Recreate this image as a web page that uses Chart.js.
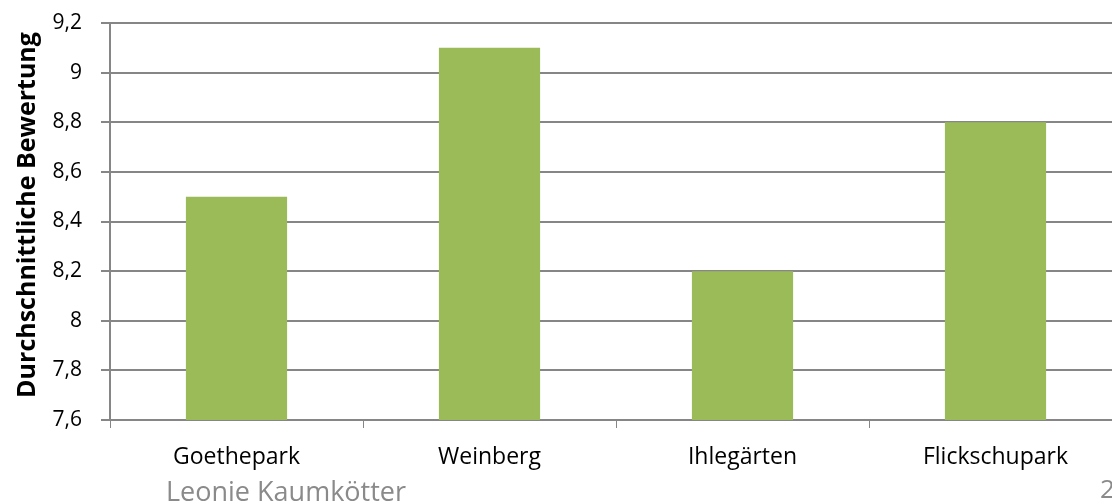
<!DOCTYPE html>
<html>
<head>
<meta charset="utf-8">
<script src="https://cdn.jsdelivr.net/npm/chart.js@4/dist/chart.umd.min.js"></script>
<style>
  html, body { margin: 0; padding: 0; background: #fff; overflow: hidden; }
  #wrap { position: relative; width: 1124px; height: 502px; }
  canvas { display: block; }
  .note { position: absolute; font-family: "Open Sans", sans-serif; color: #8a8a8a; white-space: nowrap; }
</style>
</head>
<body>
<div id="wrap">
  <canvas id="barChartParks" width="1124" height="502"></canvas>
  <div class="note" style="left:166px; top:472px; font-size:27px;">Leonie Kaumkötter</div>
  <div class="note" style="left:1100px; top:470px; font-size:26px;">2</div>
</div>
<script>
var parkNames = ['Goethepark', 'Weinberg', 'Ihlegärten', 'Flickschupark'];
var avgRatings = [8.5, 9.1, 8.2, 8.8];
var yMin = 7.6;
var yMax = 9.2;
var yStep = 0.2;

var ctx = document.getElementById('barChartParks').getContext('2d');
var barChartParks = new Chart(ctx, {
    type: 'bar',
    data: {
        labels: parkNames,
        datasets: [{
            label: 'Durchschnittliche Bewertung',
            data: avgRatings,
            backgroundColor: '#9bbb59',
            borderWidth: 0,
            barPercentage: 0.4,
            categoryPercentage: 1
        }]
    },
    options: {
        responsive: false,
        animation: false,
        layout: {
            padding: { top: 0, right: 2, bottom: 0, left: 0 }
        },
        scales: {
            x: {
                grid: {
                    display: true,
                    drawOnChartArea: false,
                    drawTicks: true,
                    tickLength: 8,
                    color: '#868686',
                    offset: true
                },
                border: { color: '#868686', width: 2 },
                ticks: {
                    color: '#000',
                    font: { family: 'Open Sans', size: 23 },
                    padding: 16,
                    maxRotation: 0,
                    autoSkip: false
                },
                afterFit: function (scale) { scale.height = 82; }
            },
            y: {
                min: yMin,
                max: yMax,
                grid: {
                    display: true,
                    color: '#868686',
                    lineWidth: 2,
                    tickLength: 9
                },
                border: { color: '#868686', width: 2 },
                ticks: {
                    stepSize: yStep,
                    autoSkip: false,
                    color: '#000',
                    font: { family: 'Open Sans', size: 21 },
                    padding: 19,
                    callback: function (v) { return (Math.round(v * 10) / 10).toString().replace('.', ','); }
                },
                title: {
                    display: true,
                    // leading spaces nudge the rotated title up a bit, like the original
                    text: '  Durchschnittliche Bewertung',
                    color: '#000',
                    font: { family: 'Open Sans', size: 25, weight: 'bold' },
                    padding: { top: 13, bottom: 0 }
                },
                afterFit: function (scale) {
                    scale.width = 110;
                    scale.paddingTop = 23;
                    scale.paddingBottom = 0;
                }
            }
        },
        plugins: {
            legend: { display: false },
            tooltip: { enabled: false }
        }
    }
});
</script>
</body>
</html>
